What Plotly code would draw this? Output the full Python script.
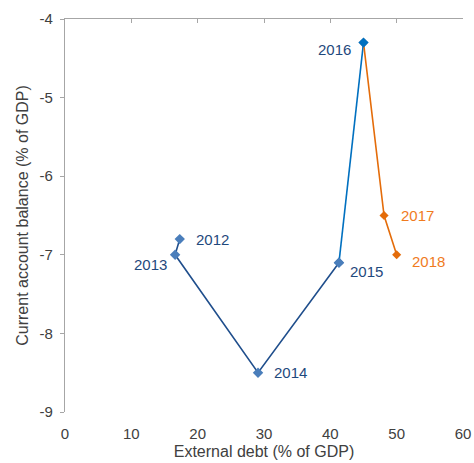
import plotly.graph_objects as go

years = ["2012", "2013", "2014", "2015", "2016", "2017", "2018"]
external_debt = [17.3, 16.6, 29.1, 41.3, 45.0, 48.1, 50.0]
current_account = [-6.8, -7.0, -8.5, -7.1, -4.3, -6.5, -7.0]
x_ticks = [0, 10, 20, 30, 40, 50, 60]
y_ticks = [-9, -8, -7, -6, -5, -4]
y_tick_text = ["-9", "-8", "-7", "-6", "-5", "-4"]

DARK = "#1f4e8c"
MARK = "#4a7ebb"
BRIGHT = "#0070c0"
ORANGE = "#e46c0a"
LABEL_BLUE = "#1f497d"
LABEL_ORANGE = "#f07b1e"
FONT = "Liberation Sans, Arial, sans-serif"

fig = go.Figure()
# 2012-2015 dark blue
fig.add_trace(go.Scatter(
    x=external_debt[0:4], y=current_account[0:4], mode="lines+markers",
    line=dict(color=DARK, width=1.6),
    marker=dict(symbol="diamond", size=8, color=MARK), showlegend=False, hoverinfo="skip"))
# 2015-2016 bright blue
fig.add_trace(go.Scatter(
    x=external_debt[3:5], y=current_account[3:5], mode="lines",
    line=dict(color=BRIGHT, width=1.6), showlegend=False, hoverinfo="skip"))
fig.add_trace(go.Scatter(
    x=external_debt[3:4], y=current_account[3:4], mode="markers",
    marker=dict(symbol="diamond", size=8, color=MARK), showlegend=False, hoverinfo="skip"))
# 2016-2018 orange
fig.add_trace(go.Scatter(
    x=external_debt[4:7], y=current_account[4:7], mode="lines+markers",
    line=dict(color=ORANGE, width=1.6),
    marker=dict(symbol="diamond", size=7, color=ORANGE), showlegend=False, hoverinfo="skip"))
fig.add_trace(go.Scatter(
    x=external_debt[4:5], y=current_account[4:5], mode="markers",
    marker=dict(symbol="diamond", size=8, color=BRIGHT), showlegend=False, hoverinfo="skip"))
# invisible trace for the top axis
fig.add_trace(go.Scatter(x=[x_ticks[0], x_ticks[-1]], y=[y_ticks[0], y_ticks[0]], xaxis="x2",
                         mode="markers", marker=dict(opacity=0), showlegend=False, hoverinfo="skip"))

label_pos = {
    "2012": ("left", 14, 0),
    "2013": ("right", -6, -10),
    "2014": ("left", 14, 0),
    "2015": ("left", 9, -9),
    "2016": ("right", -11, -7),
    "2017": ("left", 15, 0),
    "2018": ("left", 13, -7),
}
for i, yr in enumerate(years):
    anchor, xs, ys = label_pos[yr]
    fig.add_annotation(x=external_debt[i], y=current_account[i], text=yr, showarrow=False,
                       xanchor=anchor, yanchor="middle", xshift=xs, yshift=ys,
                       font=dict(family=FONT, size=15,
                                 color=LABEL_ORANGE if i >= 5 else LABEL_BLUE))

fig.update_layout(
    width=474, height=463,
    margin=dict(l=65, r=11, t=19, b=51),
    paper_bgcolor="white", plot_bgcolor="white",
    font=dict(family=FONT, size=15, color="#404040"),
    xaxis=dict(range=[x_ticks[0], x_ticks[-1]], tickvals=x_ticks, showgrid=False, zeroline=False,
               showline=False, ticks="", ticklabelstandoff=11,
               tickfont=dict(size=15, color="#404040"), automargin=False,
               title=dict(text="External debt (% of GDP)", font=dict(size=16, color="#404040"), standoff=4)),
    xaxis2=dict(range=[x_ticks[0], x_ticks[-1]], tickvals=x_ticks, overlaying="x", side="top",
                showticklabels=False, showgrid=False, zeroline=False, showline=True, automargin=False,
                linecolor="#a6a6a6", linewidth=1.3, ticks="inside", ticklen=4, tickcolor="#a6a6a6"),
    yaxis=dict(range=[y_ticks[0], y_ticks[-1]], tickvals=y_ticks, ticktext=y_tick_text,
               showgrid=False, zeroline=False, automargin=False, ticklabelstandoff=4,
               showline=True, linecolor="#a6a6a6", linewidth=1.3, ticks="outside", ticklen=4,
               tickcolor="#a6a6a6", tickfont=dict(size=15, color="#404040"),
               title=dict(text="Current account balance (% of GDP)", font=dict(size=16, color="#404040"), standoff=6)),
)

# remove the page's default body margin so the figure fills the window exactly
fig.write_html("out.html", config={"displayModeBar": False},
               post_script="document.body.style.margin='0';document.body.style.overflow='hidden';")
